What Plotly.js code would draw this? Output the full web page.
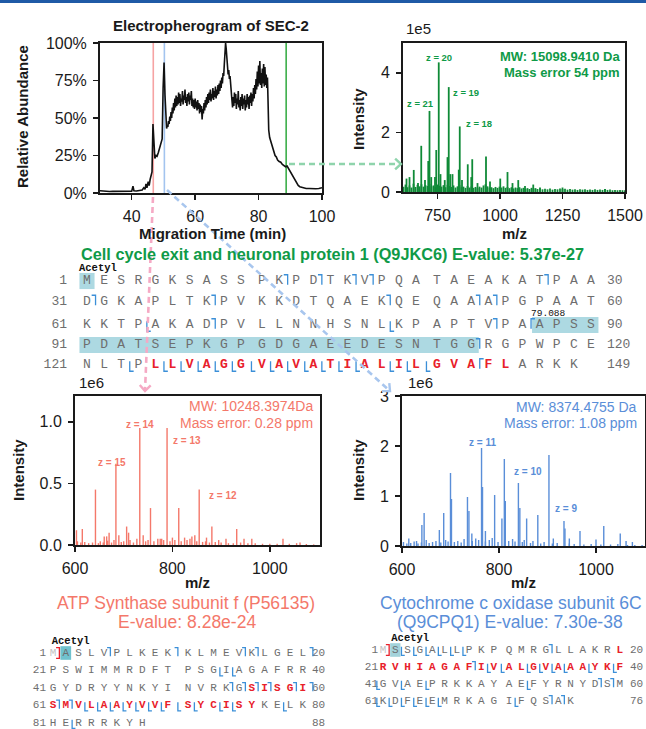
<!DOCTYPE html>
<html><head><meta charset="utf-8">
<script src="https://cdn.plot.ly/plotly-3.0.1.min.js"></script>
<style>html,body{margin:0;padding:0;background:#fff;}#chart{width:646px;height:729px;}</style>
</head><body><div id="chart"></div>
<script>
// ================= DATA =================
// Electropherogram of SEC-2 (migration time in min, relative abundance in %)
const ephTime = [30,31,32,33,34,35,36,37,38,39,40,40.4,40.7,41.5,42.5,43.3,43.8,44.2,44.5,44.8,45.2,45.5,45.8,46.1,46.4,46.7,47.0,47.3,47.7,48.0,48.4,48.8,49.2,49.6,49.9,50.2,50.5,50.8,
  51.0,51.2,51.4,51.6,51.8,52.0,52.2,52.4,52.6,52.8,53.0,53.2,53.4,53.6,53.8,54.0,54.2,54.4,54.6,54.8,55.0,55.2,55.4,55.6,55.8,56.0,56.2,56.4,56.6,56.8,57.0,57.2,57.4,57.6,57.8,58.0,58.2,58.4,58.6,58.8,59.0,59.2,59.4,59.6,59.8,60.0,60.2,60.4,60.6,60.8,61.0,61.2,61.4,61.6,61.8,62.0,62.2,62.4,62.6,62.8,63.0,63.2,63.4,63.6,63.8,64.0,64.2,64.4,64.6,64.8,65.0,65.2,65.4,65.6,65.8,66.0,66.2,66.4,66.6,66.8,67.0,67.2,67.4,67.6,67.8,68.0,68.2,68.4,68.6,68.8,69.0,69.2,69.4,69.6,69.8,70.0,70.2,70.4,70.6,70.8,71.0,71.2,71.4,71.6,71.8,72.0,72.2,72.4,72.6,72.8,73.0,73.2,73.4,73.6,73.8,74.0,74.2,74.4,74.6,74.8,75.0,75.2,75.4,75.6,75.8,76.0,76.2,76.4,76.6,76.8,77.0,77.2,77.4,77.6,77.8,78.0,78.2,78.4,78.6,78.8,79.0,79.2,79.4,79.6,79.8,80.0,80.2,80.4,80.6,80.8,81.0,81.2,81.4,81.6,81.8,82.0,82.2,82.4,82.6,82.8,83.0,83.2,
  83.5,84.0,84.4,84.8,85.2,85.6,86.0,86.5,87.0,87.5,88.0,88.5,89.0,89.5,90.0,90.5,91.0,91.5,92.0,92.5,93.0,94.0,95.0,96.0,97.0,98.0,99.0,100];
const ephAbund = [1.5,1.2,1.4,1.0,1.1,1.2,0.8,1.0,1.1,1.3,1.2,4.5,1.5,1.3,1.6,2.0,3.5,2.5,6.0,3.5,7.5,5.0,9.0,11,14,46,30,23,25,24.5,27,30,32,36,70,87,65,47,
  43,45,44,48,46,51,48,54,50,57,53,60,55,63,57,65,58,64,59,67,60,66,58,63,61,68,59,65,62,69,60,64,58,66,61,67,59,65,62,68,58,63,57,62,56,63,57,61,55,62,56,60,53,59,54,58,49,56,53,60,55,62,57,64,59,66,60,67,62,69,61,66,63,70,62,68,64,71,63,69,65,72,66,73,68,75,70,77,73,80,78,86,93,100,96,90,84,79,82,76,78,70,66,62,57,64,58,67,60,66,56,63,59,68,57,62,55,64,58,66,56,63,59,65,55,62,57,66,59,64,56,65,60,67,58,66,61,70,63,72,66,76,69,81,71,85,73,88,72,80,70,83,73,86,71,84,72,79,70,77,60,42,
  37,33,30,27,25,24,22,21,20.5,19,18.5,17.5,18,16,14,12,10.5,8.5,6.5,5,4.2,3.5,3.0,3.0,2.8,2.8,3.0,3.5];
const markerTimes = [46.8, 50.3, 88.7];   // selected fractions (red, blue, green)

// MS1 spectrum, Cell cycle exit and neuronal protein 1 (green)
const greenPeakMz  = [626,638,655,672,685,700,713,718,725,740,745,755,762,779,790,795,801,810,835,839,848,871,885,889,910,944,960,1001,1030,1050,1073,1100,1133,1160,1250,1420];
const greenPeakInt = [0.45e5,0.5e5,0.74e5,0.3e5,1.55e5,0.4e5,1.04e5,2.72e5,0.5e5,0.5e5,1.41e5,4.35e5,0.6e5,0.4e5,1.17e5,3.52e5,0.6e5,0.6e5,0.75e5,2.2e5,0.4e5,0.93e5,0.5e5,1.1e5,0.3e5,1.19e5,0.35e5,0.45e5,0.67e5,0.3e5,0.4e5,0.2e5,0.25e5,0.15e5,0.15e5,0.1e5];
const greenBaseMz  = [614,622,630,638,646,654,662,670,678,686,694,702,710,718,726,734,742,750,758,766,774,782,790,798,806,814,822,830,838,846,854,862,870,878,886,894,902,910,918,926,934,942,950,958,966,974,982,990,998,1006,1014,1022,1030,1038,1046,1054,1062,1070,1078,1086,1094,1102,1110,1118,1126,1134,1142,1150,1160,1170,1180,1190,1200,1210,1220,1230,1240,1250,1260,1270,1280,1290,1300,1310,1320,1330,1340,1350,1360,1370,1380,1390,1400,1410,1420,1430,1440,1450,1460,1470,1480,1490,1500];
const greenBaseInt = [1.8e4,2.5e4,1.6e4,2.2e4,1.5e4,2.8e4,1.7e4,2.4e4,1.9e4,2.6e4,1.8e4,2.3e4,2.0e4,2.7e4,1.9e4,2.2e4,1.7e4,2.5e4,2.1e4,1.8e4,2.3e4,1.6e4,2.4e4,2.0e4,1.7e4,2.2e4,1.5e4,1.9e4,2.3e4,1.6e4,1.8e4,1.4e4,2.0e4,1.5e4,1.9e4,1.4e4,1.7e4,1.3e4,1.8e4,1.5e4,2.2e4,2.6e4,1.9e4,1.5e4,1.6e4,1.3e4,1.7e4,1.4e4,1.8e4,1.5e4,1.9e4,1.4e4,1.7e4,1.3e4,1.6e4,1.2e4,1.5e4,1.3e4,1.6e4,1.2e4,1.4e4,1.1e4,1.3e4,1.0e4,1.4e4,1.2e4,1.3e4,1.0e4,1.2e4,0.9e4,1.1e4,0.9e4,1.2e4,0.8e4,1.0e4,0.9e4,1.2e4,1.0e4,1.1e4,0.8e4,1.0e4,0.8e4,0.9e4,0.7e4,0.9e4,0.8e4,0.9e4,0.7e4,0.8e4,0.7e4,0.9e4,0.7e4,0.8e4,0.7e4,1.0e4,0.7e4,0.8e4,0.6e4,0.7e4,0.6e4,0.7e4,0.6e4,0.6e4];
const greenZ = [{z:'z = 20',mz:755,i:4.5e5},{z:'z = 21',mz:682,i:2.96e5},{z:'z = 19',mz:863,i:3.33e5},{z:'z = 18',mz:915,i:2.3e5}];

// MS1 spectrum, ATP Synthase subunit f (red)
const redPeakMz  = [603,615,642,660,665,670,684,690,706,710,733,740,755,770,778,789,800,813,825,840,846,855,870,881,895,910,932,947,963,1027,1062];
const redPeakInt = [0.12e6,0.13e6,0.45e6,0.07e6,0.07e6,0.1e6,0.66e6,0.08e6,0.15e6,0.1e6,0.95e6,0.08e6,0.3e6,0.05e6,0.05e6,0.95e6,0.06e6,0.3e6,0.06e6,0.07e6,0.08e6,0.45e6,0.06e6,0.15e6,0.04e6,0.05e6,0.13e6,0.05e6,0.05e6,0.05e6,0.02e6];
const redBaseMz  = [605,612,620,628,636,648,652,658,667,675,680,695,700,713,720,727,745,750,762,775,782,795,805,818,830,836,850,862,868,876,888,900,915,925,940,955,970,985,1000,1015,1040,1055,1075,1090];
const redBaseInt = [3e4,2e4,2.5e4,1.5e4,2e4,1.5e4,3e4,2e4,3.5e4,2e4,4e4,2.5e4,3e4,4e4,2e4,5e4,3e4,4e4,3e4,5e4,4e4,3e4,4e4,3e4,4e4,5e4,3e4,2.5e4,3e4,2e4,2.5e4,2e4,1.5e4,1.5e4,2e4,1.5e4,1.5e4,1e4,1e4,1e4,1e4,1.5e4,0.8e4,0.5e4];
const redZ = [{z:'z = 14',mz:733,i:0.98e6},{z:'z = 13',mz:829,i:0.85e6},{z:'z = 15',mz:675,i:0.67e6},{z:'z = 12',mz:903,i:0.40e6}];

// MS1 spectrum, Cytochrome c oxidase subunit 6C (blue)
const bluePeakMz  = [614,630,641,645.6,677,686,700,702,735,738,744,764,766,772,791,806,811,813,840,843,857,880,903,912,934,936,945,967,1000,1016,1050,1062,1075];
const bluePeakInt = [0.15e6,0.1e6,0.42e6,0.66e6,0.32e6,0.66e6,1.46e6,0.94e6,0.98e6,0.7e6,0.25e6,1.96e6,1.18e6,0.3e6,1.02e6,0.55e6,1.74e6,0.9e6,1.26e6,0.76e6,0.55e6,0.62e6,1.82e6,0.15e6,0.5e6,0.35e6,0.15e6,0.3e6,0.13e6,0.4e6,0.25e6,0.1e6,0.08e6];
const blueBaseMz  = [603,610,618,625,633,640,650,656,663,670,680,690,695,708,715,722,728,745,752,758,772,780,786,798,820,828,833,848,852,865,870,886,893,910,920,945,955,975,990,1010,1030,1045,1065,1080,1095];
const blueBaseInt = [8e4,5e4,6e4,9e4,5e4,7e4,12e4,6e4,8e4,10e4,7e4,12e4,9e4,8e4,10e4,7e4,14e4,10e4,15e4,12e4,9e4,12e4,16e4,8e4,10e4,14e4,9e4,8e4,12e4,6e4,10e4,5e4,8e4,5e4,6e4,5e4,4e4,3e4,4e4,3e4,3e4,4e4,2e4,2e4,2e4];
const blueZ = [{z:'z = 11',mz:766,i:2.08e6},{z:'z = 10',mz:859,i:1.5e6},{z:'z = 9',mz:938,i:0.76e6}];

// Sequences and fragment maps
const seqTop  = "MESRGKSASSPKPDTKVPQATAEAKATPAADGKAPLTKPVKKDTQAEKQEQAAAPGPAATKKTPAKADPVLLNNHSNLKPAPTVPAAPSSPDATSEPKGPGDGAEEDESNTGGRGPWPCENLTPLLVAGGVAVATIALILGVAFLARKK";
const seqATP  = "MASLVPLKEKKLMEVKLGELPSWIMMRDFTPSGIAGAFRRGYDRYYNKYINVRKGSISGISMVLAAYVVFSYCISYKELKHERRRKYH";
const seqCyto = "MSSGALLPKPQMRGLLAKRLRVHIAGAFIVALGVAAAYKFGVAEPRKKAYAEFYRNYDSMKDFEEMRKAGIFQSAK";
const topRed = [125,145], atpRed = [56,76], cytoRed = [20,40];
const topShade = [[1,1],[87,90],[91,113]], atpShade = [[2,2]], cytoShade = [[2,2]];
const topAfter  = [12,14,16,17,27,31,38,48,53,54,68,84,113];
const topBefore = [65,79,124,126,127,128,129,130,131,132,133,134,135,136,137,139,140,141];
const topBeforeTop = [87,144];
const atpAfter  = [5,10,15,16,20,54,55,56,57,59,60,61,62];
const atpBefore = [34,35,64,65,66,67,68,69,70,71,72,74,75,79,83];
const cytoAfter  = [14,28,58,59,74,75];
const cytoBefore = [3,4,5,6,7,8,30,31,33,34,35,36,38,40,41,43,45,53,61,62,63,64,65,66,72];

// ================= LAYOUT HELPERS =================
const W = 646, H = 729;
const FS = 'Liberation Sans, Arial, sans-serif';
const MONO = 'Liberation Mono, DejaVu Sans Mono, monospace';
const GREEN = '#0f9a47', GREENL = '#0f8a37', SALMON = '#f4786a', BLUE = '#5a8ed8';
const INK = '#1a1a1a';
const px = (x) => x / W, py = (y) => 1 - y / H;

function sticks(xs, ys) {
  const X = [], Y = [];
  xs.forEach((x, i) => { X.push(x, x, null); Y.push(0, ys[i], null); });
  return {X, Y};
}

function axisStyle(extra) {
  return Object.assign({
    showline: true, mirror: true, linewidth: 2, linecolor: INK,
    ticks: 'outside', ticklen: 5, tickwidth: 1.5, tickcolor: INK,
    showgrid: false, zeroline: false, fixedrange: true,
    tickfont: {family: FS, size: 16, color: INK}, ticklabelstandoff: 3
  }, extra);
}

const traces = [];
const markerColors = ['#f6a3a3', '#a3c4ef', '#3cae4a'];
markerTimes.forEach((t, i) => traces.push({x: [t, t], y: [0, 100], xaxis: 'x', yaxis: 'y', mode: 'lines',
  line: {color: markerColors[i], width: 1.6}, hoverinfo: 'skip', showlegend: false}));
traces.push({x: ephTime, y: ephAbund, xaxis: 'x', yaxis: 'y', mode: 'lines', line: {color: '#111', width: 1.6},
  hoverinfo: 'skip', showlegend: false});

function addSpectrum(pm, pi, bm, bi, ax, ay, color, w) {
  const b = sticks(bm, bi), p = sticks(pm, pi);
  traces.push({x: b.X, y: b.Y, xaxis: ax, yaxis: ay, mode: 'lines', line: {color, width: w}, hoverinfo: 'skip', showlegend: false});
  traces.push({x: p.X, y: p.Y, xaxis: ax, yaxis: ay, mode: 'lines', line: {color, width: w}, hoverinfo: 'skip', showlegend: false});
}
addSpectrum(greenPeakMz, greenPeakInt, greenBaseMz, greenBaseInt, 'x2', 'y2', GREENL, 1.8);
addSpectrum(redPeakMz, redPeakInt, redBaseMz, redBaseInt, 'x3', 'y3', SALMON, 1.4);
addSpectrum(bluePeakMz, bluePeakInt, blueBaseMz, blueBaseInt, 'x4', 'y4', BLUE, 1.4);

// ---------- sequence blocks on an overlay pixel axis ----------
const OV = {xaxis: 'x5', yaxis: 'y5', hoverinfo: 'skip', showlegend: false};
function block(seq, cfg, red, shade, after, before, beforeTop, removedFirst) {
  const pos = [];
  for (let k = 1; k <= seq.length; k++) {
    const r = Math.floor((k - 1) / cfg.perRow), c = (k - 1) % cfg.perRow;
    pos.push({x: cfg.x0 + c * cfg.dx + Math.floor(c / 10) * cfg.gap, y: cfg.rowY[r], c});
  }
  const hh = cfg.fs * 0.62;
  shade.forEach(([a, b]) => {
    const x1 = pos[a - 1].x - cfg.dx / 2 + 1, x2 = pos[b - 1].x + cfg.dx / 2 - 1, y = pos[a - 1].y;
    traces.push(Object.assign({x: [x1, x2, x2, x1, x1], y: [y - hh, y - hh, y + hh, y + hh, y - hh], mode: 'lines',
      fill: 'toself', fillcolor: cfg.shadeColor, line: {width: 0}}, OV));
  });
  const groups = {norm: [], red: [], rem: []};
  seq.split('').forEach((ch, i) => {
    const k = i + 1;
    const g = (removedFirst && k === 1) ? 'rem' : (k >= red[0] && k <= red[1] ? 'red' : 'norm');
    groups[g].push(i);
  });
  const styles = {norm: {color: '#6e6e6e', b: false}, red: {color: '#e8202a', b: true}, rem: {color: '#c4c4c4', b: false}};
  Object.keys(groups).forEach(g => {
    const idx = groups[g];
    if (!idx.length) return;
    traces.push(Object.assign({x: idx.map(i => pos[i].x), y: idx.map(i => pos[i].y),
      text: idx.map(i => styles[g].b ? '<b>' + seq[i] + '</b>' : seq[i]), mode: 'text', textposition: 'middle center',
      textfont: {family: MONO, size: cfg.fs, color: styles[g].color}}, OV));
  });
  const nRows = Math.ceil(seq.length / cfg.perRow);
  const sx = [], sy = [], st = [], ex = [], ey = [], et = [];
  for (let r = 0; r < nRows; r++) {
    sx.push(cfg.numRight); sy.push(cfg.rowY[r]); st.push(String(r * cfg.perRow + 1));
    ex.push(cfg.endLeft); ey.push(cfg.rowY[r]); et.push(String(Math.min((r + 1) * cfg.perRow, seq.length)));
  }
  traces.push(Object.assign({x: sx, y: sy, text: st, mode: 'text', textposition: 'middle left', textfont: {family: MONO, size: cfg.fs, color: '#6e6e6e'}}, OV));
  traces.push(Object.assign({x: ex, y: ey, text: et, mode: 'text', textposition: 'middle right', textfont: {family: MONO, size: cfg.fs, color: '#6e6e6e'}}, OV));
  const h = cfg.fs * 0.48, f = cfg.fs * 0.3;
  const BX = [], BY = [];
  const push = (pts) => { pts.forEach(p => { BX.push(p[0]); BY.push(p[1]); }); BX.push(null); BY.push(null); };
  const afterX = (k) => { const p = pos[k - 1]; return p.x + cfg.dx / 2 + (p.c % 10 === 9 ? cfg.gap / 2 : 0); };
  const beforeX = (k) => { const p = pos[k - 1]; return p.x - cfg.dx / 2 - (p.c % 10 === 0 && p.c > 0 ? cfg.gap / 2 : 0); };
  after.forEach(k => { const xm = afterX(k), y = pos[k - 1].y; push([[xm - f, y - h], [xm, y - h], [xm, y + h * 0.6]]); });
  before.forEach(k => { const xm = beforeX(k), y = pos[k - 1].y; push([[xm, y - h * 0.6], [xm, y + h], [xm + f, y + h]]); });
  beforeTop.forEach(k => { const xm = beforeX(k), y = pos[k - 1].y; push([[xm + f, y - h], [xm, y - h], [xm, y + h * 0.6]]); });
  traces.push(Object.assign({x: BX, y: BY, mode: 'lines', line: {color: '#3b8fd8', width: 1.3}}, OV));
  if (removedFirst) {
    const xm = afterX(1), y = pos[0].y;
    traces.push(Object.assign({x: [xm - f, xm, xm, xm - f], y: [y - h, y - h, y + h, y + h], mode: 'lines', line: {color: '#e8202a', width: 1.3}}, OV));
  }
  return pos;
}
const topPos = block(seqTop, {x0: 87, dx: 17.1, gap: 4, perRow: 30, rowY: [281, 301.5, 325, 345, 365], numRight: 67, endLeft: 607, fs: 13, shadeColor: '#add9e2'},
  topRed, topShade, topAfter, topBefore, topBeforeTop, false);
const atpPos = block(seqATP, {x0: 53, dx: 12.75, gap: 7.5, perRow: 20, rowY: [653, 670.5, 688, 705.5, 723], numRight: 46, endLeft: 312, fs: 11, shadeColor: '#70c2ce'},
  atpRed, atpShade, atpAfter, atpBefore, [], true);
const cytoPos = block(seqCyto, {x0: 383, dx: 12.3, gap: 3, perRow: 20, rowY: [650, 667, 684, 701], numRight: 378, endLeft: 630, fs: 11, shadeColor: '#a3d3db'},
  cytoRed, cytoShade, cytoAfter, cytoBefore, [], true);

traces.push(Object.assign({x: [topPos[0].x - 8, atpPos[1].x - 14, cytoPos[1].x - 4], y: [268.5, 641, 638.5], text: ['<b>Acetyl</b>', '<b>Acetyl</b>', '<b>Acetyl</b>'],
  mode: 'text', textposition: 'middle right', textfont: {family: MONO, size: 10.5, color: '#111'}}, OV));
traces.push(Object.assign({x: [(topPos[86].x + topPos[87].x) / 2], y: [313.2], text: ['79.088'], mode: 'text', textposition: 'middle center',
  textfont: {family: MONO, size: 9.5, color: '#111'}}, OV));

function connector(x1, y1, x2, y2, color) {
  traces.push(Object.assign({x: [x1, x2], y: [y1, y2], mode: 'lines', line: {color, width: 2.6, dash: '6px,4px'}}, OV));
  const L = Math.hypot(x2 - x1, y2 - y1), ux = (x2 - x1) / L, uy = (y2 - y1) / L, a = 0.75, s = 8;
  const r1 = [x2 - s * (ux * Math.cos(a) - uy * Math.sin(a)), y2 - s * (uy * Math.cos(a) + ux * Math.sin(a))];
  const r2 = [x2 - s * (ux * Math.cos(a) + uy * Math.sin(a)), y2 - s * (uy * Math.cos(a) - ux * Math.sin(a))];
  traces.push(Object.assign({x: [r1[0], x2, r2[0]], y: [r1[1], y2, r2[1]], mode: 'lines', line: {color, width: 2.4}}, OV));
}
connector(289, 164, 401, 164, '#8fd4ac');
connector(153, 197, 145, 391, '#f5a9c4');
connector(167, 190, 390, 391, '#a8c6ee');

// ================= ANNOTATIONS =================
const ann = [];
function A(text, x, y, o) {
  ann.push(Object.assign({text, x: px(x), y: py(y), xref: 'paper', yref: 'paper', showarrow: false,
    xanchor: 'center', yanchor: 'middle', font: {family: FS, size: 15, color: INK}}, o || {}));
}
A('<b>Electropherogram of SEC-2</b>', 211, 25);
A('<b>Migration Time (min)</b>', 212, 233);
A('<b>Relative Abundance</b>', 22, 117, {textangle: -90});
A('<b>Intensity</b>', 359, 119, {textangle: -90});
A('<b>m/z</b>', 514, 233);
A('1e5', 404, 29, {xanchor: 'left'});
A('<b>MW: 15098.9410 Da</b>', 622, 57, {xanchor: 'right', font: {family: FS, size: 13, color: GREEN}});
A('<b>Mass error 54 ppm</b>', 622, 73, {xanchor: 'right', font: {family: FS, size: 13, color: GREEN}});
A('1e6', 77, 382, {xanchor: 'left'});
A('<b>Intensity</b>', 18, 470, {textangle: -90});
A('<b>m/z</b>', 197, 582);
A('MW: 10248.3974Da', 315, 406, {xanchor: 'right', font: {family: FS, size: 14, color: SALMON}});
A('Mass error: 0.28 ppm', 315, 423, {xanchor: 'right', font: {family: FS, size: 14, color: SALMON}});
A('1e6', 406, 382, {xanchor: 'left'});
A('<b>Intensity</b>', 358, 470, {textangle: -90});
A('<b>m/z</b>', 523, 582);
A('MW: 8374.4755 Da', 639, 407, {xanchor: 'right', font: {family: FS, size: 14, color: BLUE}});
A('Mass error: 1.08 ppm', 639, 423, {xanchor: 'right', font: {family: FS, size: 14, color: BLUE}});
A('<b>Cell cycle exit and neuronal protein 1 (Q9JKC6) E-value: 5.37e-27</b>', 332, 254, {font: {family: FS, size: 16.3, color: GREEN}});
A('ATP Synthase subunit f (P56135)', 186, 603, {font: {family: FS, size: 17.5, color: SALMON}});
A('E-value: 8.28e-24', 187, 622, {font: {family: FS, size: 17.5, color: SALMON}});
A('Cytochrome c oxidase subunit 6C', 511, 603, {font: {family: FS, size: 17.5, color: BLUE}});
A('(Q9CPQ1) E-value: 7.30e-38', 510, 622, {font: {family: FS, size: 17.5, color: BLUE}});
function zAnn(list, xr, yr, color, size) {
  list.forEach(d => ann.push({text: '<b>' + d.z + '</b>', x: d.mz, y: d.i, xref: xr, yref: yr, showarrow: false,
    xanchor: 'center', yanchor: 'middle', font: {family: FS, size, color}}));
}
zAnn(greenZ, 'x2', 'y2', GREEN, 9.5);
zAnn(redZ, 'x3', 'y3', SALMON, 10);
zAnn(blueZ, 'x4', 'y4', BLUE, 10);

// ================= LAYOUT =================
const layout = {
  width: W, height: H, margin: {l: 0, r: 0, t: 0, b: 0},
  paper_bgcolor: '#fff', plot_bgcolor: 'rgba(0,0,0,0)', showlegend: false,
  xaxis: axisStyle({domain: [px(100), px(322)], range: [30, 100], tickvals: [40, 60, 80, 100], anchor: 'y'}),
  yaxis: axisStyle({domain: [py(193), py(43)], range: [0, 100], tickvals: [0, 25, 50, 75, 100], ticktext: ['0%', '25%', '50%', '75%', '100%'], anchor: 'x'}),
  xaxis2: axisStyle({domain: [px(403), px(625)], range: [612, 1500], tickvals: [750, 1000, 1250, 1500], anchor: 'y2'}),
  yaxis2: axisStyle({domain: [py(192), py(43)], range: [0, 5e5], tickvals: [0, 2e5, 4e5], ticktext: ['0', '2', '4'], anchor: 'x2'}),
  xaxis3: axisStyle({domain: [px(75), px(320)], range: [600, 1103], tickvals: [600, 800, 1000], anchor: 'y3'}),
  yaxis3: axisStyle({domain: [py(545), py(396)], range: [0, 1.21e6], tickvals: [0, 0.5e6, 1e6], ticktext: ['0.0', '0.5', '1.0'], anchor: 'x3'}),
  xaxis4: axisStyle({domain: [px(402), px(644.5)], range: [600, 1100], tickvals: [600, 800, 1000], anchor: 'y4'}),
  yaxis4: axisStyle({domain: [py(546), py(396)], range: [0, 3e6], tickvals: [0, 1e6, 2e6, 3e6], ticktext: ['0', '1', '2', '3'], anchor: 'x4'}),
  xaxis5: {domain: [0, 1], range: [0, W], visible: false, fixedrange: true, anchor: 'y5'},
  yaxis5: {domain: [0, 1], range: [H, 0], visible: false, fixedrange: true, anchor: 'x5'},
  annotations: ann,
  shapes: [{type: 'rect', xref: 'paper', yref: 'paper', x0: 0, x1: 1, y0: py(3), y1: 1, fillcolor: '#1f5aa6', line: {width: 0}}]
};
Plotly.newPlot('chart', traces, layout, {staticPlot: true, displayModeBar: false});
</script></body></html>
